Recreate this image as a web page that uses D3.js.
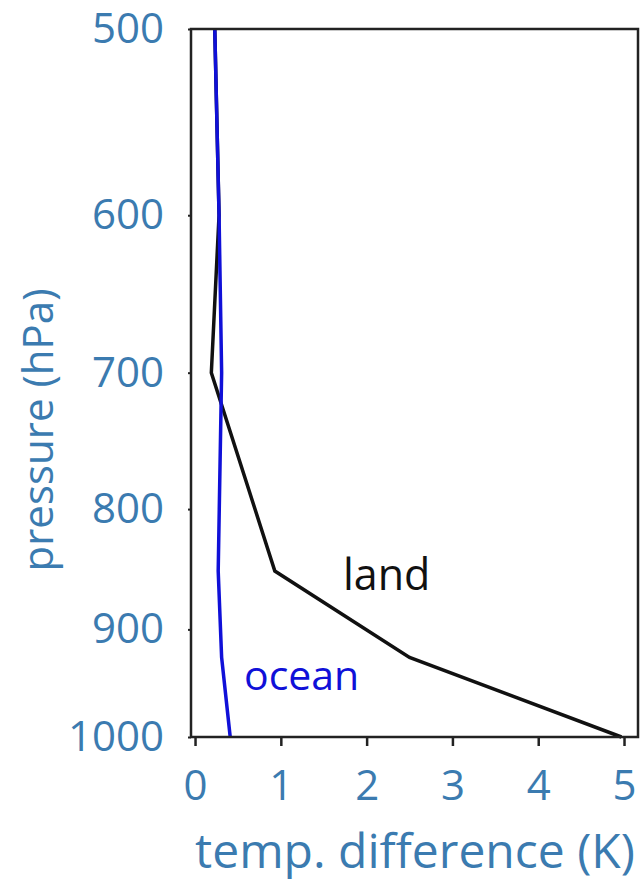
<!DOCTYPE html>
<html>
<head>
<meta charset="utf-8">
<script src="https://cdn.jsdelivr.net/npm/d3@7"></script>
<style>
  body { margin: 0; background: #fff; }
  text { font-family: "Open Sans", "Noto Sans", sans-serif; }
</style>
</head>
<body>
<div id="chart"></div>
<script>
// pressure levels (hPa) and temperature differences (K)
var levels = [500, 600, 700, 850, 925, 1000];
var land = [0.23, 0.28, 0.19, 0.93, 2.5, 4.97];
var ocean = [0.23, 0.28, 0.31, 0.27, 0.31, 0.41];
var xTicks = [0, 1, 2, 3, 4, 5];
var yTicks = [500, 600, 700, 800, 900, 1000];

var w = 643, h = 882;
var labelColor = "#3b7bb0";

var svg = d3.select("#chart").append("svg")
    .attr("width", w)
    .attr("height", h);

// x 0..5 K, pressure on a log axis
var xScale = d3.scaleLinear().domain([-0.047, 5.163]).range([191, 638]);
var yScale = d3.scaleLog().domain([500, 1000]).range([29, 737]);

var line = d3.line()
    .x(function (d) { return xScale(d.v); })
    .y(function (d) { return yScale(d.p); });

function rows(vals) {
    return levels.map(function (p, i) { return { p: p, v: vals[i] }; });
}

svg.append("path")
    .datum(rows(land))
    .attr("d", line)
    .attr("fill", "none")
    .attr("stroke", "#111")
    .attr("stroke-width", 3.5);

svg.append("path")
    .datum(rows(ocean))
    .attr("d", line)
    .attr("fill", "none")
    .attr("stroke", "#1010d8")
    .attr("stroke-width", 3.5);

// frame
svg.append("rect")
    .attr("x", 191).attr("y", 29)
    .attr("width", 638 - 191).attr("height", 737 - 29)
    .attr("fill", "none")
    .attr("stroke", "#222")
    .attr("stroke-width", 2.5);

//x axis
var xAxis = d3.axisBottom(xScale)
    .tickValues(xTicks)
    .tickSize(9)
    .tickPadding(24)
    .tickFormat(d3.format("d"));

var gx = svg.append("g")
    .attr("transform", "translate(0,737)")
    .call(xAxis);
gx.select(".domain").remove();
gx.selectAll("line").attr("stroke", "#222").attr("stroke-width", 2.5);
gx.selectAll("text")
    .attr("fill", labelColor)
    .style("font-size", "42px");

//y axis
var yAxis = d3.axisLeft(yScale)
    .tickValues(yTicks)
    .tickSize(3)
    .tickPadding(24)
    .tickFormat(d3.format("d"));

var gy = svg.append("g")
    .attr("transform", "translate(191,0)")
    .call(yAxis);
gy.select(".domain").remove();
gy.selectAll("line").attr("stroke", "#222").attr("stroke-width", 2);
gy.selectAll("text")
    .attr("fill", labelColor)
    .style("font-size", "42px");

// axis titles
svg.append("text")
    .attr("x", 415).attr("y", 868)
    .attr("text-anchor", "middle")
    .attr("fill", labelColor)
    .style("font-size", "48px")
    .text("temp. difference (K)");

svg.append("text")
    .attr("transform", "translate(53,430) rotate(-90)")
    .attr("text-anchor", "middle")
    .attr("fill", labelColor)
    .style("font-size", "42px")
    .text("pressure (hPa)");

// series labels
svg.append("text")
    .attr("x", 343).attr("y", 590)
    .attr("fill", "#111")
    .style("font-size", "43px")
    .text("land");

svg.append("text")
    .attr("x", 244).attr("y", 690)
    .attr("fill", "#1010d8")
    .style("font-size", "41px")
    .text("ocean");
</script>
</body>
</html>
